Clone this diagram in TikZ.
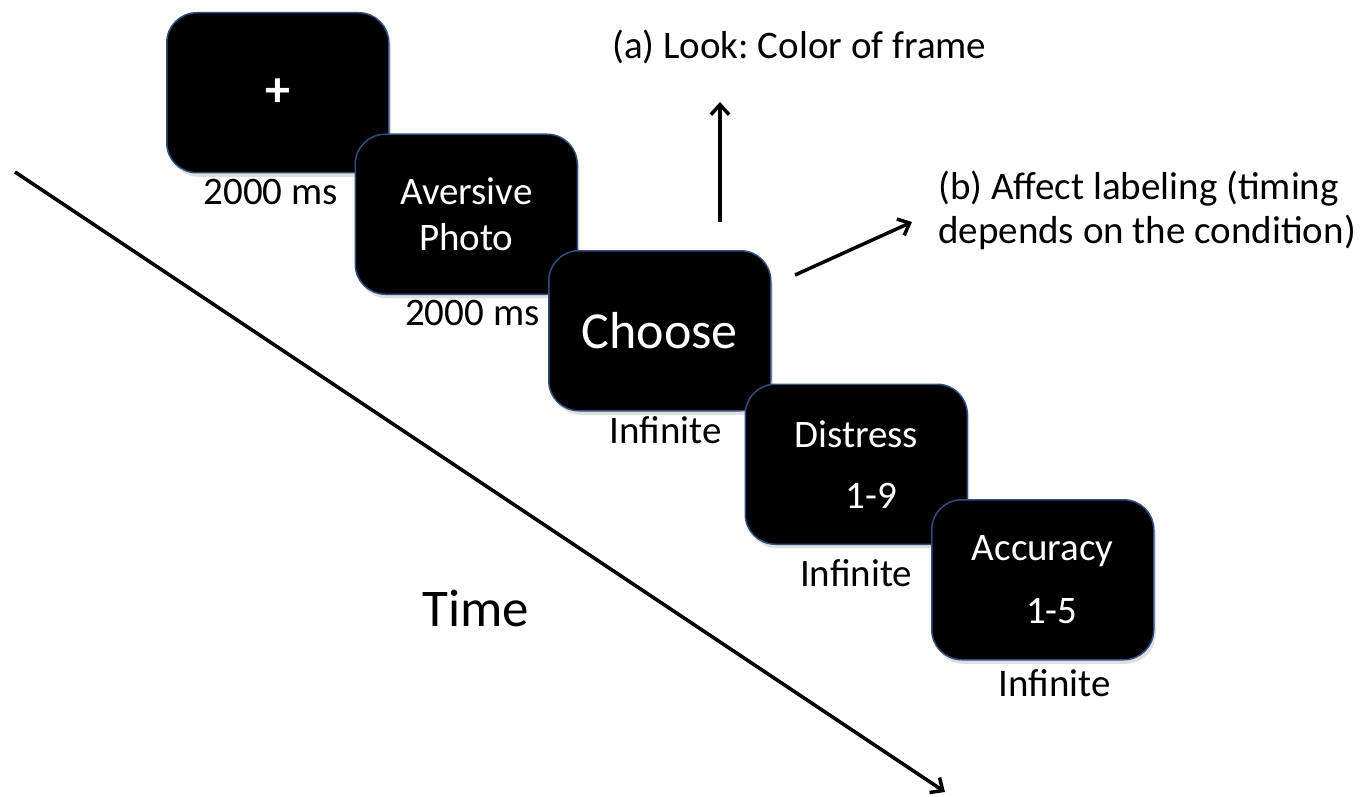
\documentclass[tikz,border=0pt]{standalone}
\usepackage{fontspec}
\setmainfont{Carlito}
\frenchspacing
\usetikzlibrary{arrows.meta, positioning, shadows}
\definecolor{frameblue}{HTML}{2F4F7F}
\tikzset{
  screen/.style={rectangle, rounded corners=30pt, draw=frameblue, line width=1.5pt,
                 fill=black, text=white, minimum width=222pt, minimum height=160pt,
                 align=center, font=\fontsize{39}{46}\selectfont,
                 drop shadow={opacity=0.25, shadow xshift=2pt, shadow yshift=-4pt}},
  timing/.style={inner sep=2pt, font=\fontsize{39}{46}\selectfont},
  note/.style={inner sep=0pt, align=left, font=\fontsize{39}{44}\selectfont},
  arrow/.style={-{Straight Barb[length=10pt, width=18pt, line width=3.5pt]}, line width=3.5pt},
}

\begin{document}
\begin{tikzpicture}[x=1pt, y=-1pt]
  \useasboundingbox (0,0) rectangle (1371,797);

  % Time axis
  \coordinate (tstart) at (15,172);
  \coordinate (tend) at (945,792);
  \draw[arrow] (tstart) -- (tend);
  \node[font=\fontsize{53}{60}\selectfont] (time) at (476,608) {Time};

  % Screens, each one below right of the last
  \node[screen, anchor=north west, font=\fontsize{50}{60}\bfseries] (fix) at (166,12) {+};
  \node[screen, below right=-40pt and -35pt of fix] (photo) {Aversive\\Photo};
  \node[screen, below right=-45pt and -30pt of photo, font=\fontsize{52}{60}\selectfont] (choose) {Choose};
  \node[screen, below right=-28pt and -27pt of choose] (distress) {Distress\\[15pt]\hspace*{30pt}1-9};
  \node[screen, below right=-46pt and -37pt of distress] (accuracy) {Accuracy\\[17pt]\hspace*{18pt}1-5};

  % Durations
  \node[timing, below=3pt of fix, xshift=-7pt] (tfix) {2000 ms};
  \node[timing, below=3pt of photo, xshift=6pt] (tphoto) {2000 ms};
  \node[timing, below=3pt of choose, xshift=6pt] (tchoose) {Infinite};
  \node[timing, below=12pt of distress] (tdistress) {Infinite};
  \node[timing, below=7pt of accuracy, xshift=12pt] (taccuracy) {Infinite};

  % Choice options
  \node[note, anchor=west] (look) at (612,47) {(a) Look: Color of frame};
  \node[note, anchor=west] (label) at (938,210) {(b) Affect labeling (timing\\depends on the condition)};
  \coordinate (lookfrom) at (720,222);
  \coordinate (lookto) at (720,102);
  \coordinate (labelfrom) at (795,275);
  \coordinate (labelto) at (912,222);
  \draw[arrow] (lookfrom) -- (lookto);
  \draw[arrow] (labelfrom) -- (labelto);

\end{tikzpicture}
\end{document}
